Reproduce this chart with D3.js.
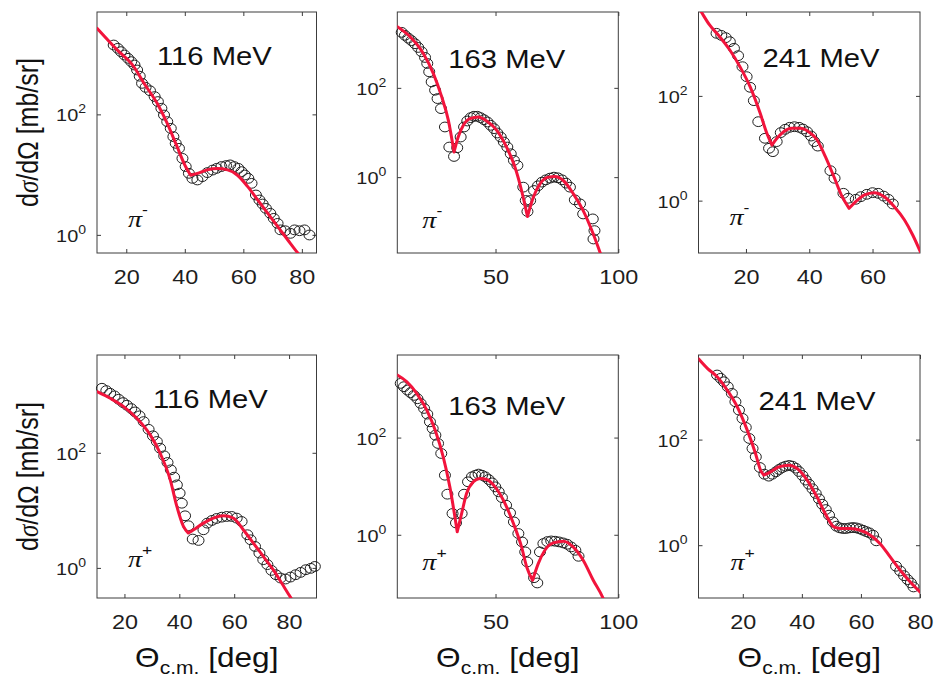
<!DOCTYPE html>
<html>
<head>
<meta charset="utf-8">
<script src="https://cdn.jsdelivr.net/npm/d3@7"></script>
<style>
  body { margin: 0; background: #fff; }
  svg { display: block; }
</style>
</head>
<body>
<script>
// Elastic pion scattering: measured cross sections (circles) and model fits (red)
// Each point: [scattering angle θ_c.m. in deg, dσ/dΩ in mb/sr]

const energies = ["116 MeV", "163 MeV", "241 MeV"];
const charges = ["-", "+"];
const yTickValues = [1, 100];

// ---- π− ----
const exp116m = [[15.7,1416],[17.1,1247],[18.2,1099],[19.4,966],[20.6,851],[21.7,750],[22.8,659],[23.7,545],
  [24.6,430],[25.4,327],[26.6,281],[28.1,247],[29.7,197],[30.8,163],[32.0,126],[32.9,97.5],[34.0,75.7],
  [35.2,58.6],[36.1,42.7],[36.9,33.0],[38.0,27.3],[39.2,18.6],[40.3,13.6],[41.4,10.5],[42.6,8.67],
  [44.3,8.15],[46.0,9.25],[47.7,10.8],[49.5,11.9],[50.9,12.7],[52.5,13.6],[54.1,14.1],[55.5,14.5],
  [56.9,13.6],[58.3,12.7],[59.4,11.2],[60.5,9.86],[61.7,8.67],[62.8,7.16],[64.3,4.59],[65.5,3.79],
  [66.6,3.25],[67.7,2.75],[69.2,2.28],[70.4,1.88],[71.7,1.55],[72.7,1.21],[74.3,1.17],[76.1,1.06],
  [77.5,1.21],[79.2,1.17],[80.9,1.21],[82.6,0.995]];
const fit116m = [
  [[10,2690],[16.9,1175],[22.6,617],[26.0,331],[30.6,151],[34.0,70.8],[37.4,28.8],[40.3,13.5],[42.0,9.77]],
  [[42.0,9.77],[44.3,10.5],[47.7,12.0],[51.2,12.6],[54.6,12.0],[58.0,9.77],[61.5,6.31],[64.9,3.80],
   [68.3,2.29],[71.7,1.38],[75.2,0.822],[78.6,0.50],[81,0.36]]];

const exp163m = [[11.8,1750],[13.1,1500],[14.5,1300],[15.8,1140],[17.2,973],[18.5,804],[19.9,643],[21.3,480],
  [22.2,352],[23.0,229],[24.0,136],[25.4,88.5],[26.4,57.5],[27.8,34.3],[29.4,13.3],[31.2,4.72],[33.1,2.91],
  [34.4,4.56],[35.8,7.93],[37.2,13.3],[38.5,18.1],[39.9,21.5],[41.2,23.1],[42.6,23.1],[43.9,21.5],
  [45.3,19.4],[46.7,17.2],[48.0,14.5],[49.4,12.2],[50.7,9.75],[52.1,7.93],[53.4,6.11],[54.8,4.72],
  [56.2,3.34],[57.5,2.37],[58.9,1.83],[61.3,0.597],[62.3,0.30],[63.0,0.17],[64.1,0.299],[65.7,0.502],
  [67.3,0.640],[68.9,0.773],[70.5,0.871],[72.2,0.951],[73.8,1.00],[75.4,0.966],[77.1,0.871],[78.7,0.735],
  [80.3,0.597],[82.3,0.310],[84.4,0.252],[85.7,0.150],[89.6,0.116],[90.3,0.0634],[89.9,0.0412]];
const fit163m = [
  [[10,2344],[15.2,1396],[20.6,590],[24.7,209],[28.1,62.7],[30.8,18.7],[33.1,3.65]],
  [[33.1,3.65],[34.8,7.93],[36.9,14.5],[39.6,20.5],[43.0,22.3],[46.4,18.1],[50.5,11.2],[54.5,4.72],
   [57.9,1.68],[60.6,0.502],[63.0,0.131]],
  [[63.0,0.131],[65.4,0.356],[68.1,0.710],[71.5,1.00],[74.2,1.035],[77.6,0.841],[81.7,0.423],
   [85.7,0.178],[89.8,0.0533],[92.8,0.019]]];

const exp241m = [[10.7,1567],[12.2,1432],[13.6,1294],[14.9,1084],[16.2,809],[17.5,586],[18.9,361],[20.2,233],
  [21.3,146],[22.5,81.1],[23.9,32.2],[26.0,15.5],[27.3,9.98],[28.5,8.61],[29.7,13.4],[31.0,19.9],[32.4,23.0],
  [33.8,25.1],[35.3,25.8],[36.8,25.1],[38.0,23.3],[39.3,20.7],[40.6,17.1],[41.6,13.4],[42.7,11.0],
  [46.7,3.73],[48.0,2.67],[50.8,1.38],[52.3,1.11],[54.7,1.06],[56.3,1.19],[58.2,1.32],[60.0,1.42],
  [61.8,1.38],[63.5,1.22],[65.0,1.06],[66.4,0.863]];
const fit241m = [
  [[5,4900],[5.9,4000],[8.5,2259],[11.7,1352],[14.9,752],[18.1,361],[21.3,150],[24.5,46.5],[26.6,19.3],[28.2,11.5]],
  [[28.2,11.5],[29.8,15.5],[31.9,20.7],[34.5,24.0],[37.2,24.0],[39.8,20.7],[42.5,14.4],[45.1,6.90],
   [47.8,2.86],[50.4,1.19],[52.6,0.713]],
  [[52.6,0.713],[54.7,0.955],[57.3,1.28],[60.5,1.42],[63.7,1.19],[66.9,0.767],[70.1,0.427],[72.7,0.221],[75.1,0.106]]];

// ---- π+ ----
const exp116p = [[11.8,1321],[13.4,1202],[14.8,1081],[16.4,973],[17.9,851],[19.5,745],[20.9,670],[22.5,586],
  [23.9,513],[25.5,438],[27.0,348],[28.8,256],[30.4,197],[31.8,157],[33.0,120],[34.5,88.5],[35.7,67.8],
  [36.9,50.6],[38.1,37.7],[39.1,27.7],[40.1,19.9],[40.9,13.3],[42.1,8.04],[43.3,5.40],[44.9,3.17],
  [47.0,3.00],[48.8,4.60],[50.2,6.00],[51.9,6.68],[53.6,7.23],[55.5,7.62],[57.3,7.83],[59.1,7.83],
  [60.9,7.33],[62.7,6.41],[64.8,3.77],[66.0,3.08],[67.6,2.36],[69.2,1.81],[70.6,1.39],[72.1,1.14],
  [73.6,0.906],[75.2,0.762],[76.9,0.667],[78.7,0.641],[80.5,0.693],[82.4,0.762],[84.2,0.836],
  [86.1,0.931],[87.9,0.982],[89.4,1.06]];
const fit116p = [
  [[10,1156],[14.8,885],[19.7,635],[24.5,398],[29.4,205],[33.0,98.4],[36.7,33.9],[39.1,11.7],[41.5,5.25],[43.3,4.03]],
  [[43.3,4.03],[45.2,4.60],[48.8,6.00],[52.4,7.33],[56.1,8.04],[59.7,7.33],[63.3,4.60],[67.0,2.70],
   [70.6,1.58],[74.2,0.931],[77.3,0.546],[80.3,0.321],[82,0.24]]];

const exp163p = [[11.4,1303],[12.7,1114],[14.1,951],[15.4,838],[16.8,738],[18.2,630],[19.5,505],[20.9,398],
  [22.2,304],[23.3,211],[24.4,154],[25.5,112],[26.6,75.7],[27.9,47.1],[29.4,16.8],[30.4,6.84],[32.5,2.74],
  [33.9,1.75],[36.2,2.74],[37.2,6.84],[38.8,12.3],[40.4,15.6],[41.8,16.8],[43.1,17.7],[44.5,16.8],
  [45.8,15.6],[47.2,13.7],[48.6,11.7],[49.9,9.68],[51.3,7.64],[52.6,5.83],[54.3,4.06],[55.9,2.82],
  [57.5,1.84],[59.3,1.06],[60.8,0.713],[62.1,0.444],[62.9,0.276],[65.7,0.131],[67.0,0.102],[68.1,0.444],
  [69.5,0.659],[71.1,0.724],[72.7,0.746],[74.3,0.736],[75.9,0.713],[77.6,0.679],[79.2,0.638],
  [80.8,0.562],[82.5,0.480],[83.8,0.361]];
const fit163p = [
  [[10,1936],[13.8,1413],[17.9,811],[22.0,368],[25.4,143],[28.7,40.2],[31.4,9.68],[34.4,1.15]],
  [[34.4,1.15],[36.2,2.74],[38.2,7.06],[41.0,12.3],[43.7,14.4],[46.4,13.7],[49.8,9.68],[53.2,5.14],
   [57.3,1.70],[60.6,0.562],[62.7,0.218],[65.1,0.116]],
  [[65.1,0.116],[67.4,0.255],[70.1,0.480],[73.5,0.679],[77.6,0.736],[81.6,0.562],[85.7,0.299],
   [89.8,0.116],[93.9,0.0484],[95,0.035]]];

const exp241p = [[11.3,1671],[12.5,1445],[13.6,1247],[14.9,1002],[16.3,750],[17.5,521],[18.7,362],[19.9,252],
  [21.0,170],[22.2,105],[23.3,67.9],[24.4,47.2],[25.8,29.6],[27.3,22.1],[28.8,20.3],[30.0,22.1],[31.2,24.5],
  [32.3,27.2],[33.4,29.6],[34.5,31.4],[35.7,32.4],[36.8,31.4],[37.9,28.8],[39.0,24.9],[40.2,20.9],
  [41.3,17.1],[42.4,14.3],[43.6,11.7],[44.7,9.53],[45.8,7.55],[46.9,5.97],[48.1,4.73],[49.2,3.70],
  [50.5,2.76],[51.7,2.29],[52.8,2.13],[53.9,2.07],[55.0,2.07],[56.2,2.13],[57.3,2.16],[58.4,2.13],
  [59.5,2.04],[60.7,1.92],[61.8,1.81],[62.9,1.71],[64.1,1.55],[65.2,1.21],[71.9,0.399],[73.3,0.325],
  [74.6,0.265],[75.8,0.223],[76.9,0.193],[77.8,0.162]];
const fit241p = [
  [[5,3390],[8.0,2234],[11.3,1552],[14.7,867],[18.1,419],[21.5,151],[24.3,54.6],[26.0,26.4],[27.1,21.2]],
  [[27.1,21.2],[29.4,24.5],[32.2,30.5],[35.6,32.8],[38.4,28.4],[41.8,17.1],[45.1,8.24],[48.5,3.44],
   [50.8,2.22],[53.0,2.07],[56.4,2.07],[59.8,1.92],[63.2,1.55],[66.5,1.07],[69.9,0.600],[73.3,0.335],
   [76.7,0.201],[80.0,0.130]]];

// panel definitions: data plus axis ranges
const panels = [
  { title: energies[0], charge: charges[0], exp: exp116m, fit: fit116m, xDomain: [10, 85],  yDomain: [0.5, 5000],  xTicks: [20, 40, 60, 80] },
  { title: energies[1], charge: charges[0], exp: exp163m, fit: fit163m, xDomain: [10, 100], yDomain: [0.02, 5000], xTicks: [50, 100] },
  { title: energies[2], charge: charges[0], exp: exp241m, fit: fit241m, xDomain: [5, 75],   yDomain: [0.1, 4000],  xTicks: [20, 40, 60] },
  { title: energies[0], charge: charges[1], exp: exp116p, fit: fit116p, xDomain: [10, 90],  yDomain: [0.3, 5000],  xTicks: [20, 40, 60, 80] },
  { title: energies[1], charge: charges[1], exp: exp163p, fit: fit163p, xDomain: [10, 100], yDomain: [0.05, 5000], xTicks: [50, 100] },
  { title: energies[2], charge: charges[1], exp: exp241p, fit: fit241p, xDomain: [5, 80],   yDomain: [0.1, 4000],  xTicks: [20, 40, 60, 80] }
];

// ---- layout ----
const W = 936, H = 677;
const SX = 1.17;                      // horizontal widening of the lettering
const cols = [[97, 316.5], [397.3, 618.3], [698.5, 920]];
const rows = [[12, 253], [355, 598]];
const layout = [
  { col: 0, row: 0, title: [60, 53], pi: [31, -26] },
  { col: 1, row: 0, title: [51, 56], pi: [25, -25] },
  { col: 2, row: 0, title: [64, 55], pi: [31, -28] },
  { col: 0, row: 1, title: [56, 53], pi: [31, -31] },
  { col: 1, row: 1, title: [51, 60], pi: [25, -28] },
  { col: 2, row: 1, title: [60, 55], pi: [32, -28] }
];
const SANS = "'Liberation Sans', Arial, Helvetica, sans-serif";
const SERIF = "'Liberation Serif', 'Times New Roman', serif";
const INK = "#1e1e1e";
const AXIS = "#3c3c3c";
const FIT = "#f2143c";

const svg = d3.select("body").append("svg").attr("width", W).attr("height", H);
svg.append("rect").attr("width", W).attr("height", H).attr("fill", "#fff");

function widened(parent, x, y, extra) {
  return parent.append("g").attr("transform", `translate(${x},${y}) scale(${SX},1)` + (extra || ""));
}

panels.forEach((p, i) => {
  const L = layout[i];
  const [x0, x1] = cols[L.col];
  const [y0, y1] = rows[L.row];
  const x = d3.scaleLinear().domain(p.xDomain).range([x0, x1]);
  const y = d3.scaleLog().domain(p.yDomain).range([y1, y0]);
  const g = svg.append("g");

  const clipId = "plot-clip-" + i;
  svg.append("clipPath").attr("id", clipId)
    .append("rect").attr("x", x0).attr("y", y0).attr("width", x1 - x0).attr("height", y1 - y0);

  // inward ticks on all four sides
  const styleAxis = a => {
    a.select(".domain").remove();
    a.selectAll(".tick line").attr("stroke", AXIS).attr("stroke-width", 1);
  };
  g.append("g").attr("transform", `translate(0,${y1})`)
    .call(d3.axisBottom(x).tickValues(p.xTicks).tickSizeInner(-4).tickSizeOuter(0).tickPadding(17).tickFormat(d3.format("d")))
    .call(styleAxis)
    .call(a => a.selectAll(".tick text")
      .attr("font-family", SANS).attr("font-size", 20).attr("fill", INK)
      .attr("transform", `scale(${SX},1)`));
  g.append("g").attr("transform", `translate(0,${y0})`)
    .call(d3.axisTop(x).tickValues(p.xTicks).tickSizeInner(-4).tickSizeOuter(0).tickFormat(() => ""))
    .call(styleAxis);
  g.append("g").attr("transform", `translate(${x0},0)`)
    .call(d3.axisLeft(y).tickValues(yTickValues).tickSizeInner(-4).tickSizeOuter(0).tickFormat(() => ""))
    .call(styleAxis);
  g.append("g").attr("transform", `translate(${x1},0)`)
    .call(d3.axisRight(y).tickValues(yTickValues).tickSizeInner(-4).tickSizeOuter(0).tickFormat(() => ""))
    .call(styleAxis);

  // power-of-ten tick labels
  yTickValues.forEach(v => {
    const t = widened(g, x0 - 11, y(v) + 7).append("text")
      .attr("text-anchor", "end").attr("font-family", SANS).attr("fill", INK);
    t.append("tspan").attr("font-size", 17).text("10");
    t.append("tspan").attr("font-size", 12).attr("dy", -8).text(String(Math.round(Math.log10(v))));
  });

  // frame
  g.append("rect").attr("x", x0).attr("y", y0).attr("width", x1 - x0).attr("height", y1 - y0)
    .attr("fill", "none").attr("stroke", AXIS).attr("stroke-width", 1);

  // measured points
  g.append("g").selectAll("ellipse").data(p.exp).join("ellipse")
    .attr("cx", d => x(d[0])).attr("cy", d => y(d[1]))
    .attr("rx", 5.5).attr("ry", 4.9)
    .attr("fill", "none").attr("stroke", INK).attr("stroke-width", 1);

  // model curve: smooth pieces joined at the diffraction minima
  const line = d3.line().x(d => x(d[0])).y(d => y(d[1])).curve(d3.curveMonotoneX);
  let dPath = "";
  p.fit.forEach((seg, k) => {
    const s = line(seg);
    dPath += k === 0 ? s : s.replace(/^M[^A-Za-z]*/, "");
  });
  g.append("path").attr("d", dPath).attr("clip-path", `url(#${clipId})`)
    .attr("fill", "none").attr("stroke", FIT).attr("stroke-width", 3)
    .attr("stroke-linejoin", "round").attr("stroke-linecap", "round");

  // energy label
  widened(g, x0 + L.title[0], y0 + L.title[1]).append("text")
    .attr("font-family", SANS).attr("font-size", 25).attr("fill", "#111").text(p.title);

  // pion charge label
  const pt = widened(g, x0 + L.pi[0], y1 + L.pi[1]).append("text").attr("fill", "#111");
  pt.append("tspan").attr("font-family", SERIF).attr("font-style", "italic").attr("font-size", 24).text("π");
  pt.append("tspan").attr("font-family", SANS).attr("font-size", 15).attr("dy", -12).text(p.charge);
});

// y axis titles
rows.forEach(([y0, y1]) => {
  const t = widened(svg, 38, (y0 + y1) / 2, " rotate(-90)").append("text")
    .attr("text-anchor", "middle").attr("font-family", SANS).attr("font-size", 25).attr("fill", "#111");
  t.append("tspan").text("d");
  t.append("tspan").attr("font-family", SERIF).attr("font-style", "italic").text("σ");
  t.append("tspan").text("/dΩ [mb/sr]");
});

// x axis titles
cols.forEach(([x0, x1]) => {
  const t = widened(svg, (x0 + x1) / 2, 667).append("text")
    .attr("text-anchor", "middle").attr("font-family", SANS).attr("font-size", 27).attr("fill", "#111");
  t.append("tspan").text("Θ");
  t.append("tspan").attr("font-size", 18).attr("dy", 7).text("c.m.");
  t.append("tspan").attr("dy", -7).text(" [deg]");
});
</script>
</body>
</html>
